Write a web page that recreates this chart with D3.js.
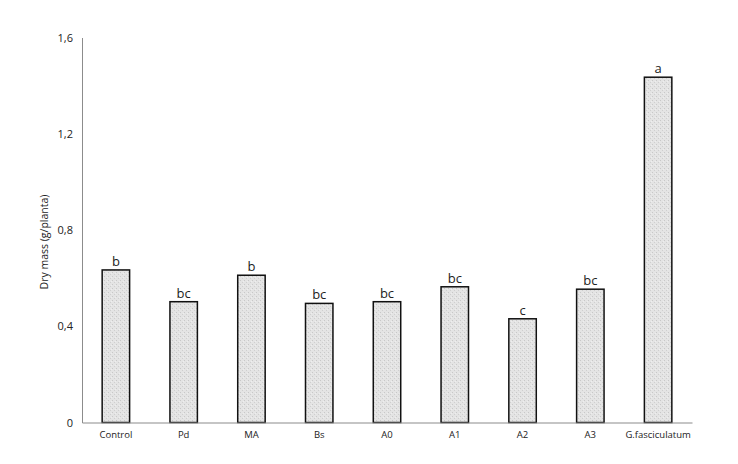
<!DOCTYPE html>
<html>
<head>
<meta charset="utf-8">
<script src="https://cdn.jsdelivr.net/npm/d3@7"></script>
<style>
  body { margin: 0; background: #fff; }
  text { font-family: "Open Sans", "Noto Sans", sans-serif; fill: #222; }
</style>
</head>
<body>
<div id="chart"></div>
<script>
const categories = ["Control", "Pd", "MA", "Bs", "A0", "A1", "A2", "A3", "G.fasciculatum"];
const dryMass = [0.634, 0.502, 0.612, 0.495, 0.502, 0.564, 0.431, 0.554, 1.435];
const letters = ["b", "bc", "b", "bc", "bc", "bc", "c", "bc", "a"];
const yTicks = [0, 0.4, 0.8, 1.2, 1.6];

const width = 738;
const height = 464;
const margin = { top: 37.5, right: 46, bottom: 41.5, left: 82 };

const svg = d3.select("#chart")
    .append("svg")
    .attr("width", width)
    .attr("height", height);

// stipple fill like the original
const defs = svg.append("defs");
const pat = defs.append("pattern")
    .attr("id", "dots")
    .attr("patternUnits", "userSpaceOnUse")
    .attr("width", 4)
    .attr("height", 4);
pat.append("rect").attr("width", 4).attr("height", 4).attr("fill", "#e4e4e4");
pat.append("rect").attr("x", 0).attr("y", 0).attr("width", 1).attr("height", 1).attr("fill", "#c8c8c8");
pat.append("rect").attr("x", 2).attr("y", 2).attr("width", 1).attr("height", 1).attr("fill", "#cfcfcf");
pat.append("rect").attr("x", 3).attr("y", 1).attr("width", 1).attr("height", 1).attr("fill", "#eeeeee");

const x = d3.scaleBand()
    .domain(categories)
    .range([margin.left, width - margin.right])
    .paddingInner(0.595)
    .paddingOuter(0.2975);

const y = d3.scaleLinear()
    .domain([0, 1.6])
    .range([height - margin.bottom, margin.top]);

// y axis
const yAxis = svg.append("g")
    .attr("transform", `translate(${margin.left},0)`)
    .call(d3.axisLeft(y).tickValues(yTicks).tickSize(0).tickPadding(9)
        .tickFormat(d => d === 0 ? "0" : d3.format(".1f")(d).replace(".", ",")));
yAxis.select(".domain").attr("stroke", "#8c8c8c");
yAxis.selectAll("text").style("font-size", "11px").attr("fill", "#333");

svg.append("text")
    .attr("transform", "translate(48,242) rotate(-90)")
    .attr("text-anchor", "middle")
    .style("font-size", "10.5px")
    .text("Dry mass (g/planta)");

// bars
svg.append("g")
    .selectAll("rect")
    .data(categories)
    .join("rect")
    .attr("x", d => x(d))
    .attr("y", (d, i) => y(dryMass[i]))
    .attr("width", x.bandwidth())
    .attr("height", (d, i) => y(0) - y(dryMass[i]))
    .attr("fill", "url(#dots)")
    .attr("stroke", "#111")
    .attr("stroke-width", 1.5);

// significance letters
svg.append("g")
    .selectAll("text")
    .data(categories)
    .join("text")
    .attr("x", d => x(d) + x.bandwidth() / 2)
    .attr("y", (d, i) => y(dryMass[i]) - 4)
    .attr("text-anchor", "middle")
    .style("font-size", "13px")
    .text((d, i) => letters[i]);

// x axis
const xAxis = svg.append("g")
    .attr("transform", `translate(0,${y(0)})`)
    .call(d3.axisBottom(x).tickSize(0).tickPadding(9).tickSizeOuter(0));
xAxis.select(".domain").attr("stroke", "#8c8c8c").attr("stroke-width", 1.2);
xAxis.selectAll("text").style("font-size", "9.5px").attr("fill", "#333");
</script>
</body>
</html>
